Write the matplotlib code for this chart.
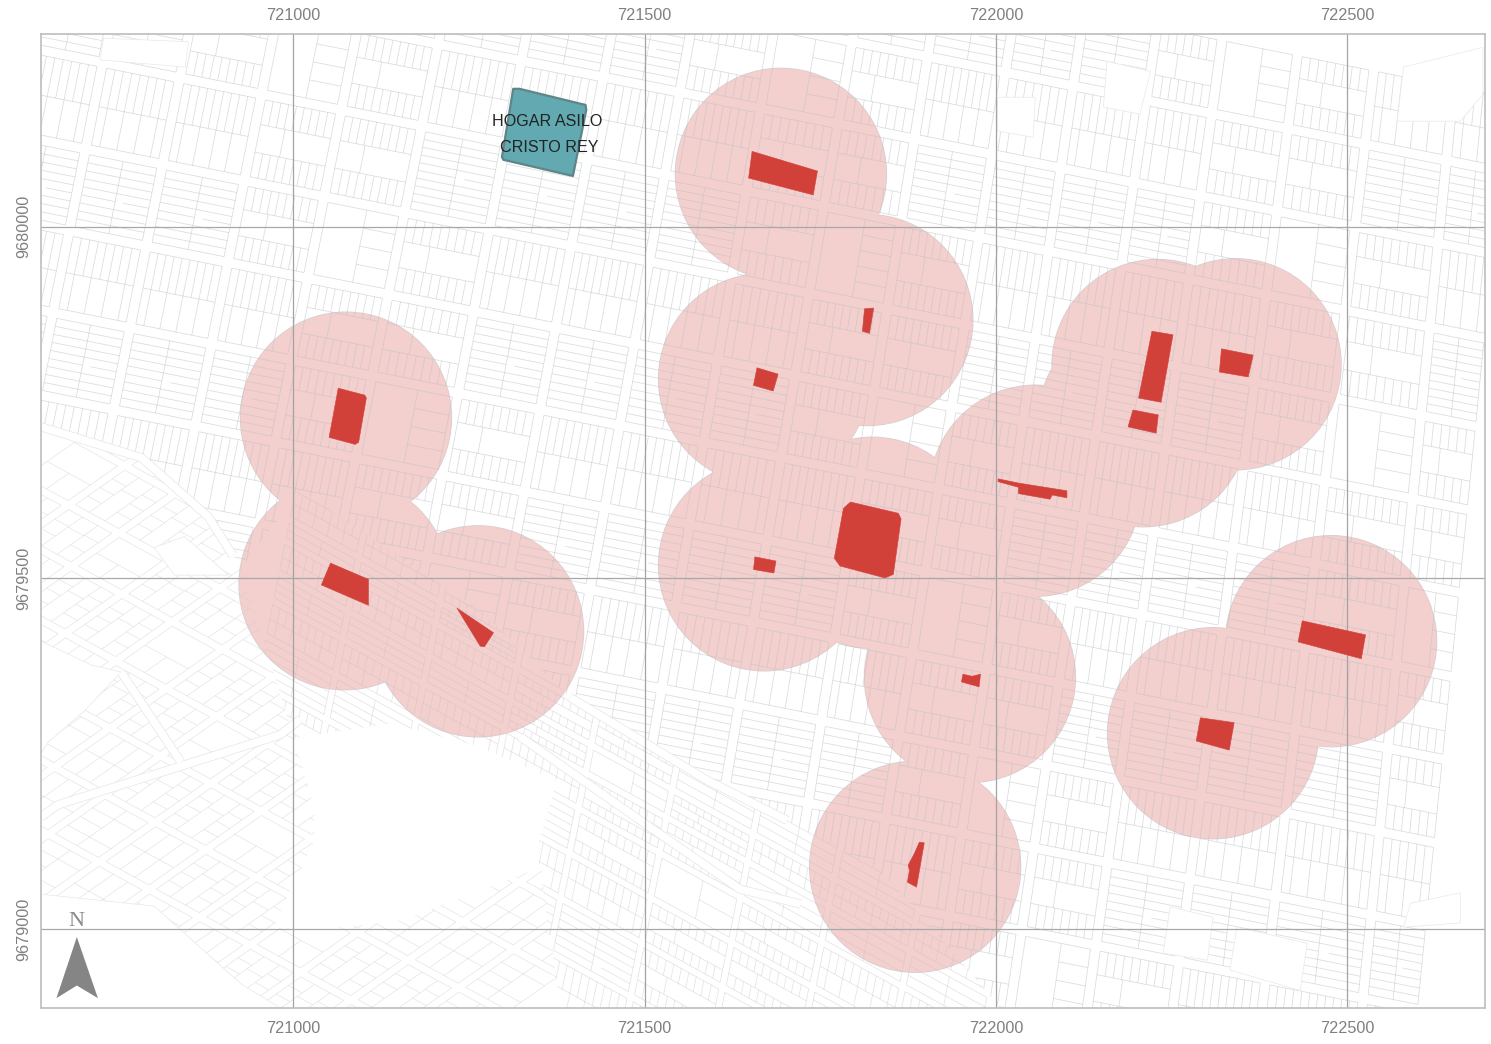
import matplotlib
matplotlib.use("Agg")
import matplotlib.pyplot as plt
import numpy as np
from matplotlib.collections import LineCollection
from matplotlib.patches import Circle, Polygon

plt.rcParams['font.family'] = ['Liberation Sans', 'DejaVu Sans']

# All map geometry: metres east of X0 and north of Y0
X0 = 721000
Y0 = 9680000
XLIM = (-359, 1696)
YLIM = (-1112, 274)
X_TICKS = [721000, 721500, 722000, 722500]
Y_TICKS = [9679000, 9679500, 9680000]
BUFFER_RADIUS = 150

buffer_centres = [(75, -272), (73, -509), (263, -576), (694, 75), (817, -133), (670, -217),
                  (670, -482), (824, -450), (1056, -376), (1230, -197), (1210, -277),
                  (1341, -196), (963, -641), (885, -911), (1477, -590), (1309, -721)]

buildings = [
    [(64, -230), (102, -240), (104, -244), (93, -307), (88, -310), (51, -300)],
    [(53, -479), (107, -502), (107, -539), (40, -510)],
    [(233, -543), (285, -578), (272, -598), (266, -597)],
    [(653, 107), (746, 79), (740, 45), (648, 69)],
    [(813, -117), (826, -116), (820, -152), (810, -149)],
    [(660, -201), (690, -210), (683, -234), (655, -226)],
    [(657, -470), (687, -476), (684, -493), (655, -488)],
    [(793, -392), (861, -408), (865, -416), (854, -495), (842, -500), (778, -483), (770, -472), (783, -401)],
    [(1003, -359), (1032, -365), (1101, -376), (1101, -386), (1080, -382), (1077, -388), (1032, -380), (1032, -371), (1003, -363)],
    [(1222, -149), (1252, -154), (1235, -250), (1203, -244)],
    [(1195, -261), (1231, -268), (1228, -294), (1188, -285)],
    [(1321, -174), (1366, -183), (1359, -214), (1318, -207)],
    [(953, -637), (966, -640), (978, -637), (976, -655), (951, -648)],
    [(891, -876), (898, -877), (887, -940), (874, -933), (877, -916), (875, -909), (884, -892)],
    [(1436, -561), (1526, -581), (1520, -615), (1430, -591)],
    [(1291, -699), (1339, -706), (1332, -745), (1285, -732)],
]

asylum = [(313, 196), (322, 196), (416, 173), (417, 166), (398, 72), (299, 95), (297, 99)]
asylum_label = ["HOGAR ASILO", "CRISTO REY"]
asylum_label_pos = [(361, 149), (364, 113)]

north_arrow = [(-308, -1011), (-278, -1098), (-308, -1080), (-337, -1098)]
north_label_pos = (-308, -989)

# Street network: each street is a pair of end points
main_ns = [((-377, 274), (-653, -1112)), ((-263, 274), (-539, -1112)), ((-149, 274), (-425, -1112)),
           ((-28, 274), (-305, -1112)), ((90, 274), (-186, -1112)), ((209, 274), (-67, -1112)),
           ((332, 274), (68, -1112)), ((453, 274), (189, -1112)), ((565, 274), (315, -1112)),
           ((683, 274), (447, -1112)), ((797, 274), (561, -1112)), ((908, 274), (686, -1112)),
           ((1022, 274), (800, -1112)), ((1121, 274), (914, -1112)), ((1228, 274), (1020, -1112)),
           ((1323, 274), (1130, -1112)), ((1433, 274), (1252, -1112)), ((1544, 274), (1379, -1112)),
           ((1659, 274), (1521, -1112)), ((1745, 274), (1607, -1112))]
main_ew = [((-359, 607), (1696, 197)), ((-359, 494), (1696, 83)), ((-359, 372), (1696, -37)),
           ((-359, 251), (1696, -159)), ((-359, 123), (1696, -287)), ((-359, 2), (1696, -408)),
           ((-359, -119), (1696, -528)), ((-359, -240), (1696, -650)), ((-359, -361), (1696, -770)),
           ((-359, -482), (1696, -891)), ((-359, -603), (1696, -1012)), ((-359, -724), (1696, -1133)),
           ((-359, -845), (1696, -1255)), ((-359, -966), (1696, -1376)), ((-359, -1087), (1696, -1497))]

diag_ns = [((10, -318), (-149, -1112)), ((124, -318), (-35, -1112)), ((252, -318), (93, -1112)),
           ((380, -318), (221, -1112)), ((508, -318), (349, -1112)), ((636, -318), (477, -1112)),
           ((764, -318), (605, -1112)), ((892, -318), (733, -1112)), ((1020, -318), (861, -1112)),
           ((1148, -318), (989, -1112))]
diag_ew_left = [-240, -297, -347, -381, -432, -476, -532, -603, -674, -759, -845, -930]
diag_ew_right = [-944, -1001, -1051, -1085, -1136, -1180, -1236, -1307, -1378, -1463, -1549, -1634]
diag_ew = [((-132, a), (1148, b)) for a, b in zip(diag_ew_left, diag_ew_right)]

sw_a_left = [-90, -190, -275, -375, -460, -560, -660, -759, -859, -958, -1058]
sw_a_right = [-496, -596, -681, -781, -866, -965, -1065, -1162, -1264, -1364, -1464]
sw_a = [((-359, a), (380, b)) for a, b in zip(sw_a_left, sw_a_right)]
sw_b_top = [-275, -147, -18, 110, 238, 366, 494, 622, 750, 878, 1006, 1134, 1262, 1390, 1518]
sw_b_bottom = [-1470, -1342, -1214, -1086, -958, -830, -702, -574, -446, -318, -190, -62, 66, 194, 322]
sw_b = [((a, -275), (b, -1112)) for a, b in zip(sw_b_top, sw_b_bottom)]

region_main = [(-359, 274), (1696, 274), (1696, -1112), (1006, -1112), (949, -1044), (835, -916),
               (703, -845), (589, -788), (394, -670), (266, -546), (10, -375), (-74, -485),
               (-121, -413), (-216, -329), (-359, -285)]
region_diag = [(10, -375), (266, -546), (394, -670), (589, -788), (703, -845), (835, -916),
               (949, -1044), (1006, -1112), (380, -1112), (347, -883), (376, -788), (258, -738),
               (139, -707), (1, -728), (-74, -485)]
region_sw = [(-359, -285), (-216, -329), (-121, -413), (-74, -485), (1, -728), (30, -828),
             (30, -873), (-27, -994), (1, -1005), (149, -988), (252, -951), (353, -911),
             (380, -1112), (-359, -1112)]

open_plots = [
    [(-359, -590), (-287, -624), (-245, -634), (-298, -690), (-349, -734), (-359, -750)],
    [(-359, -950), (-198, -967), (-74, -1078), (-18, -1112), (-359, -1112)],
    [(-198, -457), (-155, -441), (-92, -496), (-169, -496)],
    [(-270, 268), (-149, 263), (-154, 227), (-275, 237)],
    [(1158, 235), (1220, 221), (1205, 160), (1153, 170)],
    [(1002, 184), (1056, 184), (1053, 127), (1002, 136)],
    [(1580, 227), (1693, 255), (1693, 188), (1661, 150), (1571, 150)],
    [(1248, -968), (1309, -983), (1301, -1044), (1238, -1034)],
    [(1343, -997), (1443, -1020), (1433, -1087), (1333, -1058)],
    [(1590, -963), (1661, -948), (1661, -991), (1580, -997)],
]

roads = [
    [(-359, -285), (-216, -329), (-121, -413), (-86, -468)],
    [(-359, -840), (-335, -823), (-18, -723), (10, -701)],
    [(-245, -634), (-160, -762)],
    [(394, -670), (589, -788), (703, -845)],
    [(323, -726), (498, -848), (636, -943), (722, -964)],
]

LOT_PATTERNS = [0, 1, 2, 1, 0, 2, 3, 0, 2, 1, 0, 1, 2]

fig = plt.figure(figsize=(14.91, 10.44), dpi=100)
ax = fig.add_axes([41 / 1491, 1 - 1008 / 1044, 1444 / 1491, 974 / 1044])
ax.set_xlim(X0 + XLIM[0], X0 + XLIM[1])
ax.set_ylim(Y0 + YLIM[0], Y0 + YLIM[1])


def to_map(points):
    return [(X0 + x, Y0 + y) for x, y in points]


def meet(a, b):
    p, r = np.array(a[0], float), np.array(a[1], float) - np.array(a[0], float)
    q, s = np.array(b[0], float), np.array(b[1], float) - np.array(b[0], float)
    t = np.cross(q - p, s) / np.cross(r, s)
    return p + t * r


def block_lines(ns, ew, gap, lot):
    """Outline and parcel lines of every block between neighbouring streets."""
    out = []
    for i in range(len(ns) - 1):
        for j in range(len(ew) - 1):
            nw = meet(ns[i], ew[j])
            ne = meet(ns[i + 1], ew[j])
            sw = meet(ns[i], ew[j + 1])
            se = meet(ns[i + 1], ew[j + 1])
            w = np.linalg.norm(ne - nw)
            h = np.linalg.norm(sw - nw)
            if w < 3 * gap or h < 3 * gap:
                continue
            au, av = gap / w, gap / h

            def pt(u, v):
                u = au + u * (1 - 2 * au)
                v = av + v * (1 - 2 * av)
                return tuple(X0Y0 + (1 - v) * ((1 - u) * nw + u * ne) + v * ((1 - u) * sw + u * se))

            def seg(u0, v0, u1, v1):
                out.append([pt(u0, v0), pt(u1, v1)])

            seg(0, 0, 1, 0); seg(1, 0, 1, 1); seg(1, 1, 0, 1); seg(0, 1, 0, 0)
            kind = LOT_PATTERNS[(3 * i + 5 * j) % len(LOT_PATTERNS)]
            nu = max(2, int(w / lot))
            nv = max(2, int(h / lot))
            if kind == 0:
                seg(.5, 0, .5, 1)
                for k in range(1, nv):
                    seg(0, k / nv, .5 if k % 5 == 0 else 1, k / nv)
                    if k % 5 == 0:
                        seg(.62, k / nv, 1, k / nv)
            elif kind == 1:
                seg(0, .32, 1, .32); seg(0, .68, 1, .68)
                for k in range(1, nu):
                    seg(k / nu, 0, k / nu, .32)
                    seg(k / nu, .68, k / nu, 1)
                seg(.35, .32, .35, .68)
            elif kind == 2:
                seg(0, .5, 1, .5)
                for k in range(1, nu):
                    seg(k / nu, 0, k / nu, .5)
                    if k % 2:
                        seg(k / nu, .5, k / nu, 1)
            else:
                seg(.55, 0, .55, 1)
                for k in range(1, max(2, nv // 2)):
                    seg(.55, k / max(2, nv // 2), 1, k / max(2, nv // 2))
    return out


X0Y0 = np.array([X0, Y0], float)

# Buffer zones: one merged outline, lines of the map showing through
for c in buffer_centres:
    ax.add_patch(Circle((X0 + c[0], Y0 + c[1]), BUFFER_RADIUS, fc='#f3cfcd', ec='#d9cdcd', lw=1.1, zorder=1))
for c in buffer_centres:
    ax.add_patch(Circle((X0 + c[0], Y0 + c[1]), BUFFER_RADIUS, fc='#f3cfcd', ec='none', zorder=1.1))

# Street map, one line set per urban fabric
layers = [(main_ns, main_ew, 7, 12.5, region_main, '#bfc2c5', 0.58, 0.55),
          (diag_ns, diag_ew, 5, 13, region_diag, '#c4c4c4', 0.5, 0.5),
          (sw_a, sw_b, 6, 21, region_sw, '#cccccc', 0.5, 0.5)]
for ns, ew, gap, lot, region, color, alpha, lw in layers:
    clip = Polygon(to_map(region), closed=True, fc='none', ec='none', transform=ax.transData)
    ax.add_patch(clip)
    lc = LineCollection(block_lines(ns, ew, gap, lot), colors=color, alpha=alpha, linewidths=lw, zorder=2)
    ax.add_collection(lc)
    lc.set_clip_path(clip)

for plot_area in open_plots:
    ax.add_patch(Polygon(to_map(plot_area), closed=True, fc='white', ec='#e8e8e8', lw=0.5, zorder=2.5))

for road in roads:
    xs, ys = zip(*to_map(road))
    ax.plot(xs, ys, color='#e6e6e6', lw=6.5, zorder=2.6, solid_capstyle='butt')
    ax.plot(xs, ys, color='white', lw=5.5, zorder=2.7, solid_capstyle='butt')

# Graticule
for v in X_TICKS:
    ax.axvline(v, color='#a3a3a3', lw=0.9, zorder=3)
for v in Y_TICKS:
    ax.axhline(v, color='#a8a8a8', lw=0.9, zorder=3)

for b in buildings:
    ax.add_patch(Polygon(to_map(b), closed=True, fc='#d2403a', ec='#d2403a', lw=0.4, joinstyle='round', zorder=4))

ax.add_patch(Polygon(to_map(asylum), closed=True, fc='#62a9b1', ec='#5f8588', lw=1.6, joinstyle='round', zorder=4))
for s, (x, y) in zip(asylum_label, asylum_label_pos):
    ax.text(X0 + x, Y0 + y, s, ha='center', va='center', fontsize=11.6, color='#222222', zorder=5)

ax.add_patch(Polygon(to_map(north_arrow), closed=True, fc='#858585', ec='none', zorder=5))
ax.text(X0 + north_label_pos[0], Y0 + north_label_pos[1], 'N', ha='center', va='center',
        fontsize=16, color='#8a8a8a', family='Liberation Serif', zorder=5)

ax.set_xticks(X_TICKS, [str(v) for v in X_TICKS])
ax.set_yticks(Y_TICKS, [str(v) for v in Y_TICKS])
ax.tick_params(axis='x', length=0, labelsize=11.7, labelcolor='#808080', pad=9.5)
ax.tick_params(axis='y', length=0, labelsize=11.7, labelcolor='#808080', pad=9.5)
for t in ax.get_yticklabels():
    t.set_rotation(90)
    t.set_rotation_mode('anchor')
    t.set_ha('center')
    t.set_va('baseline')
top = ax.secondary_xaxis('top')
top.set_xticks(X_TICKS, [str(v) for v in X_TICKS])
top.tick_params(axis='x', length=0, labelsize=11.7, labelcolor='#808080', pad=8)
top.spines['top'].set_visible(False)
for s in ax.spines.values():
    s.set_color('#bdbdbd')
    s.set_linewidth(1.2)
    s.set_zorder(6)

fig.savefig('out.png', dpi=100, facecolor='white')
